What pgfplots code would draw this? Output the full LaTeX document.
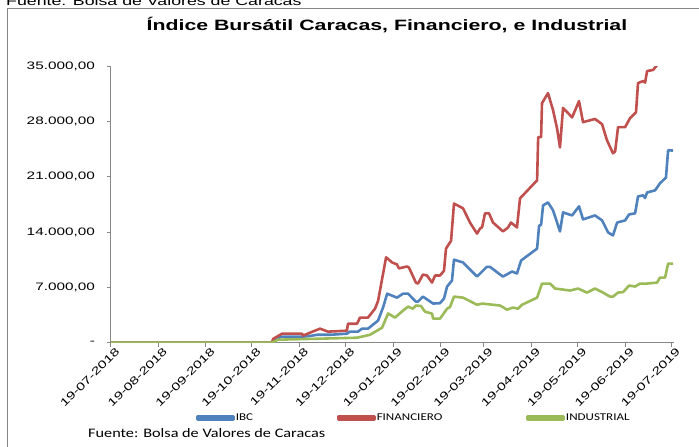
\documentclass[border=0pt]{standalone}
\usepackage{pgfplots}
\pgfplotsset{compat=1.18}
\usepackage{pgfplotstable}
\usepackage{fontspec}
\setmainfont{Liberation Sans}[FakeStretch=1.42]
\newfontfamily\calib{Carlito}[FakeStretch=1.25]
\definecolor{ibc}{HTML}{4F81BD}
\definecolor{fin}{HTML}{C0504D}
\definecolor{ind}{HTML}{9BBB59}
\definecolor{axgray}{RGB}{134,134,134}

\pgfplotstableread{
day val
0 0
105 0
106 400
111.7 760
124.7 760
129.9 850
134.4 1000
142.9 1000
153.9 1140
155.9 1400
161.1 1400
163.7 1775
167.6 1775
174.2 2800
177.5 4500
180.1 6200
186.5 5700
190.4 6200
193.7 6200
198.8 5200
200.2 5200
203.4 5830
210 4950
214.5 5000
217.1 5580
219.1 7100
222.3 7860
223.6 10500
229.5 10150
238.6 8370
240.6 8750
245 9600
247 9600
253.6 8620
255.5 8370
261.4 9000
264.6 8750
267.3 10400
277.7 11900
279 14800
280.3 14900
281.6 17370
284.8 17750
288.1 16740
292.6 14070
294.6 16480
300.5 16100
305 17250
307.6 15600
315.4 16100
320 15470
323.9 13950
327.1 13570
329.8 15200
335 15470
337.6 16230
341.5 16360
343.4 18500
346.7 18640
348 18300
349.3 19000
354.5 19270
357.7 20160
361.6 20900
363 24350
366.2 24300
}\ibcdata

\pgfplotstableread{
day val
0 0
105 0
106 500
111.7 1140
124.7 1140
125.3 890
129.9 1270
136.4 1775
141.6 1400
153.9 1520
154.6 2400
160.5 2400
162.4 3170
167.6 3170
172.2 4300
174.2 5300
179.4 10800
183.3 10150
186.5 9900
187.8 9400
193 9640
194.3 9500
198.8 7600
200.2 7480
203.4 8620
206 8500
209.3 7600
211.3 8500
214.5 8500
217.1 9100
218.4 11900
221.7 12900
223.6 17600
229.5 17000
234 15200
238.6 13800
240.6 14450
241.9 14600
243.8 16360
246.4 16360
249 15200
255.5 14070
258.8 14580
260.7 15200
264.6 14580
266.6 18260
277.7 20540
278.4 26000
280.3 26000
280.9 30300
284.8 31570
288.1 29400
290.7 27100
292.6 24700
294.6 29700
300.5 28500
305 30560
307.6 27900
315.4 28300
320 27640
323.2 25600
327.1 23960
328.5 24200
330.4 27260
335 27260
338.2 28400
342.1 29160
343.4 32840
346.7 33100
348 32900
349.3 34360
353.2 34500
356.4 35250
358 35600
362 36500
366.2 37000
}\findata

\pgfplotstableread{
day val
0 0
105 0
109 380
134.4 500
160.5 630
168.9 1000
176.8 1900
180.7 3700
185.2 3170
190.4 4060
193.7 4560
196.9 4300
198.8 4700
202.1 4650
204.7 3930
209.3 3680
210 3040
214.5 3040
219.1 4300
221 4500
223.6 5830
229.5 5700
238.6 4800
241.9 4950
249 4800
253.6 4700
258.1 4180
262 4440
265.3 4300
267.9 4800
277.7 5700
280.9 7480
286.1 7480
289.4 6850
299.2 6600
304.4 6850
310.2 6340
315.4 6850
320.6 6340
325.2 5830
327.1 5830
330.4 6340
333.7 6400
337.6 7230
341.5 7100
344.7 7480
349.3 7480
355.8 7600
357.7 8240
361 8240
363 10000
366.2 10000
}\inddata

\begin{document}
\begin{tikzpicture}
\useasboundingbox (0,0) rectangle (699pt,447pt);
\clip (0,0) rectangle (699pt,447pt);
\draw[axgray, line width=0.9pt] (7pt,439pt) rectangle (720pt,-20pt);
\node[anchor=base west, inner sep=0pt, font=\fontsize{12.5}{14}\selectfont] at (6pt,441.5pt) {Fuente: Bolsa de Valores de Caracas};
\begin{axis}[
  at={(110.5pt,104.3pt)}, anchor=south west,
  scale only axis, width=563pt, height=276.7pt,
  xmin=0, xmax=366.5, ymin=0, ymax=35000,
  scaled y ticks=false,
  axis lines*=left,
  axis line style={axgray, line width=0.8pt},
  every tick/.style={axgray, line width=0.8pt},
  tick align=outside, major tick length=4pt,
  xtick={0,31,62,92,123,153,184,215,243,274,304,335,365},
  xticklabels={19-07-2018,19-08-2018,19-09-2018,19-10-2018,19-11-2018,19-12-2018,19-01-2019,19-02-2019,19-03-2019,19-04-2019,19-05-2019,19-06-2019,19-07-2019},
  ytick={0,7000,14000,21000,28000,35000},
  yticklabels={-,{7.000,00},{14.000,00},{21.000,00},{28.000,00},{35.000,00}},
  ticklabel style={font=\fontsize{10.8}{12}\selectfont, black},
  xticklabel style={rotate=45, anchor=north east, inner sep=1pt, xshift=4pt, yshift=-2pt},
  yticklabel style={xshift=-8pt},
  title={Índice Bursátil Caracas, Financiero, e Industrial},
  title style={at={(axis description cs:0.491,1.105)}, anchor=base, font=\bfseries\fontsize{15}{18}\selectfont},
  legend columns=3,
  legend style={at={(axis description cs:0.152,-0.272)}, anchor=west, draw=none, fill=none, inner sep=0pt,
    font=\calib\fontsize{10.4}{12}\selectfont,
    nodes={inner xsep=1pt, inner ysep=1pt},
    /tikz/every even column/.append style={column sep=83pt}},
  legend cell align=left,
  legend image code/.code={\fill[#1] (0pt,-1.5pt) rectangle (36pt,1.5pt);},
]
\addplot[ibc, no markers, line width=2.6pt, line join=round] table[x=day,y=val] {\ibcdata};
\addlegendentry{IBC}
\addplot[fin, no markers, line width=2.6pt, line join=round] table[x=day,y=val] {\findata};
\addlegendentry{FINANCIERO}
\addplot[ind, no markers, line width=2.6pt, line join=round] table[x=day,y=val] {\inddata};
\addlegendentry{INDUSTRIAL}
\end{axis}
\node[anchor=base west, inner sep=0pt, font=\calib\fontsize{13}{15}\selectfont] at (88pt,9pt) {Fuente: Bolsa de Valores de Caracas};
\end{tikzpicture}
\end{document}
